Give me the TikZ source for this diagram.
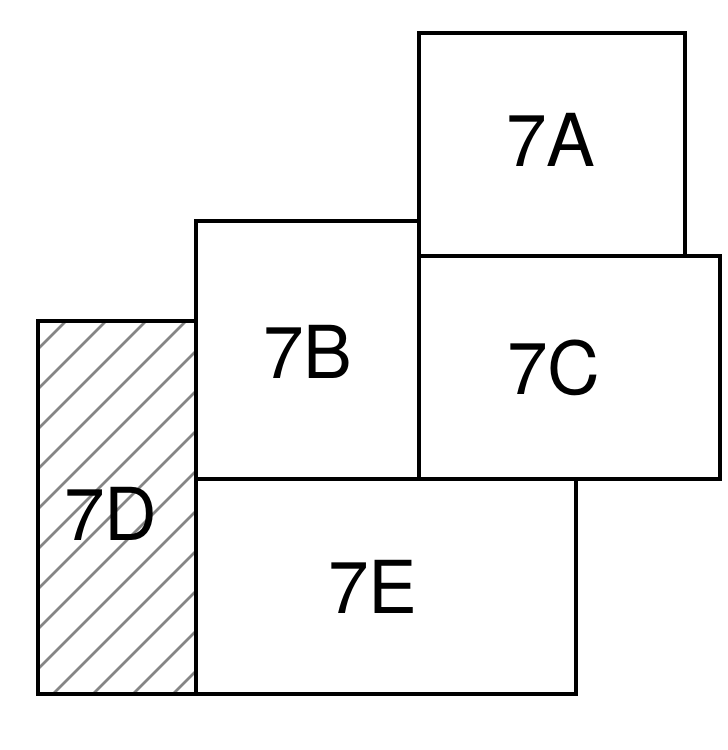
\documentclass[tikz,border=0pt]{standalone}
\usepackage{fontspec}
\setmainfont{TeX Gyre Heros}
\begin{document}
\begin{tikzpicture}[x=1pt,y=-1pt,
  box/.style={draw=black,line width=3.5pt,line join=miter},
  lab/.style={font=\fontsize{73}{73}\selectfont,inner sep=0pt,anchor=center},
  hatch/.style={draw=black!48,line width=2.6pt}]
\useasboundingbox (0,0) rectangle (728,750);
% hatching of 7D
\begin{scope}
\clip (38,321) rectangle (196,694);
\foreach \i in {-10,...,5}{
  \draw[hatch] ({53+\i*40},694) -- ({53+\i*40+560},134);
}
\end{scope}
\draw[box] (38,321) rectangle (196,694);
\draw[box] (196,479) rectangle (576,694);
\draw[box] (196,221) rectangle (419,479);
\draw[box] (419,256) rectangle (720,479);
\draw[box] (419,33) rectangle (685,256);
\node[lab] (a) at (551,140) {7A};
\node[lab] (b) at (308,352) {7B};
\node[lab] (c) at (554,368) {7C};
\node[lab] (d) at (111,514) {7D};
\node[lab] (e) at (373,587) {7E};
\end{tikzpicture}
\end{document}
